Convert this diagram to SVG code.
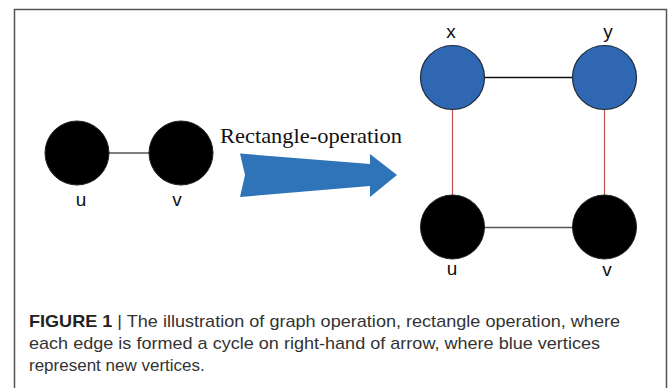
<svg xmlns="http://www.w3.org/2000/svg" width="669" height="388" viewBox="0 0 669 388">
<style>
.frame{fill:none;stroke:#555;stroke-width:1.5}
.blk{fill:#000;stroke:#222;stroke-width:1}
.blu{fill:#2F67B2;stroke:#1e2a38;stroke-width:1.2}
.lbl{font-family:"Liberation Sans",Arial,sans-serif;font-size:19px;fill:#111;text-anchor:middle}
.cap{font-family:"Liberation Sans",Arial,sans-serif;font-size:17px;fill:#333}
.e{stroke-width:1.5;fill:none}
</style>
<rect width="669" height="388" fill="#fff"/>
<path class="frame" d="M14.5,392 V9.5 H666.5 V392"/>
<g id="connectors">
<line class="e" x1="108" y1="153" x2="150" y2="153" stroke="#555"/>
<line class="e" x1="484" y1="77.5" x2="573" y2="77.5" stroke="#111"/>
<line class="e" x1="484" y1="227.5" x2="573" y2="227.5" stroke="#555"/>
<line x1="452.5" y1="109" x2="452.5" y2="196" stroke="#c0504d" stroke-width="1.2"/>
<line x1="604.5" y1="109" x2="604.5" y2="196" stroke="#c0504d" stroke-width="1.2"/>
</g>
<g id="node-u-left"><circle class="blk" cx="77" cy="153" r="32"/><text class="lbl" x="81" y="206">u</text></g>
<g id="node-v-left"><circle class="blk" cx="181" cy="153" r="32"/><text class="lbl" x="177" y="206">v</text></g>
<g id="arrow">
<path d="M240,153.5 L370,164 L370,154 L397,175 L370,197 L370,186 L240,197 L245,175 Z" fill="#2F74B8"/>
<text x="220" y="143" font-family="'Liberation Serif','Times New Roman',serif" font-size="22" textLength="182" lengthAdjust="spacingAndGlyphs" fill="#111">Rectangle-operation</text>
</g>
<g id="node-x"><circle class="blu" cx="452.5" cy="77.5" r="32"/><text class="lbl" x="451" y="38">x</text></g>
<g id="node-y"><circle class="blu" cx="604.5" cy="77.5" r="32"/><text class="lbl" x="608" y="38">y</text></g>
<g id="node-u-right"><circle class="blk" cx="452.5" cy="227" r="32"/><text class="lbl" x="452" y="275">u</text></g>
<g id="node-v-right"><circle class="blk" cx="604.5" cy="227" r="32"/><text class="lbl" x="607" y="276">v</text></g>
<g id="caption">
<text class="cap" x="29" y="327" textLength="591" lengthAdjust="spacingAndGlyphs"><tspan font-weight="bold" fill="#222">FIGURE 1</tspan> | The illustration of graph operation, rectangle operation, where</text>
<text class="cap" x="29" y="349" textLength="571" lengthAdjust="spacingAndGlyphs">each edge is formed a cycle on right-hand of arrow, where blue vertices</text>
<text class="cap" x="29" y="371">represent new vertices.</text>
</g>
</svg>
